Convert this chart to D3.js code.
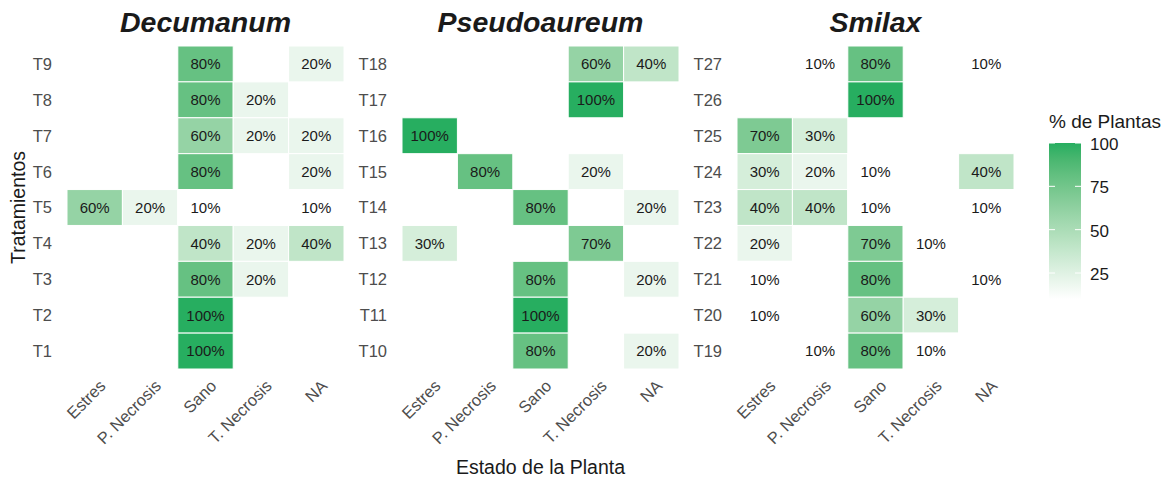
<!DOCTYPE html>
<html>
<head>
<meta charset="utf-8">
<script src="https://cdn.jsdelivr.net/npm/d3@7"></script>
<style>
  body { margin: 0; background: #fff; }
  svg { font-family: "Liberation Sans", Arial, sans-serif; }
</style>
</head>
<body>
<svg width="1170" height="480"></svg>
<script>
// estados de la planta (eje x)
let states = ["Estres", "P. Necrosis", "Sano", "T. Necrosis", "NA"];
let panelTitles = ["Decumanum", "Pseudoaureum", "Smilax"];

// filas de arriba hacia abajo; valores por estado (null = sin dato)
let decumanumRows = ["T9", "T8", "T7", "T6", "T5", "T4", "T3", "T2", "T1"];
let decumanumValues = [
  [null, null, 80, null, 20],
  [null, null, 80, 20, null],
  [null, null, 60, 20, 20],
  [null, null, 80, null, 20],
  [60, 20, 10, null, 10],
  [null, null, 40, 20, 40],
  [null, null, 80, 20, null],
  [null, null, 100, null, null],
  [null, null, 100, null, null]
];

let pseudoRows = ["T18", "T17", "T16", "T15", "T14", "T13", "T12", "T11", "T10"];
let pseudoValues = [
  [null, null, null, 60, 40],
  [null, null, null, 100, null],
  [100, null, null, null, null],
  [null, 80, null, 20, null],
  [null, null, 80, null, 20],
  [30, null, null, 70, null],
  [null, null, 80, null, 20],
  [null, null, 100, null, null],
  [null, null, 80, null, 20]
];

let smilaxRows = ["T27", "T26", "T25", "T24", "T23", "T22", "T21", "T20", "T19"];
let smilaxValues = [
  [null, 10, 80, null, 10],
  [null, null, 100, null, null],
  [70, 30, null, null, null],
  [30, 20, 10, null, 40],
  [40, 40, 10, null, 10],
  [20, null, 70, 10, null],
  [10, null, 80, null, 10],
  [10, null, 60, 30, null],
  [null, 10, 80, 10, null]
];

let legendTicks = [25, 50, 75, 100];

const svg = d3.select("svg");
const panelLeft = [67, 402, 737];
const panelW = 277;
const panelTop = 46, panelBottom = 369;

let color = d3.scaleLinear()
  .domain([10, 100])
  .range(["#ffffff", "#27ae60"])
  .interpolate(d3.interpolateLab);

let panels = [
  {rows: decumanumRows, values: decumanumValues},
  {rows: pseudoRows, values: pseudoValues},
  {rows: smilaxRows, values: smilaxValues}
];

panels.forEach((p, i) => {
  let g = svg.append("g");
  let x = d3.scaleBand().domain(states).range([panelLeft[i], panelLeft[i] + panelW]);
  let y = d3.scaleBand().domain(p.rows).range([panelTop, panelBottom]);

  let cells = [];
  p.rows.forEach((r, ri) => {
    states.forEach((s, si) => {
      let v = p.values[ri][si];
      if (v != null) cells.push({row: r, state: s, value: v});
    });
  });

  g.selectAll(".tile")
    .data(cells)
    .enter().append("rect")
    .attr("class", "tile")
    .attr("x", d => x(d.state))
    .attr("y", d => y(d.row))
    .attr("width", x.bandwidth())
    .attr("height", y.bandwidth())
    .style("fill", d => color(d.value))
    .style("stroke", "#ffffff")
    .style("stroke-width", 1);

  g.selectAll(".lbl")
    .data(cells)
    .enter().append("text")
    .attr("class", "lbl")
    .attr("x", d => x(d.state) + x.bandwidth() / 2)
    .attr("y", d => y(d.row) + y.bandwidth() / 2)
    .attr("dy", "0.36em")
    .attr("text-anchor", "middle")
    .style("font-size", "15px")
    .style("fill", "#1a1a1a")
    .text(d => d.value + "%");

  // etiquetas eje y
  g.selectAll(".ylab")
    .data(p.rows)
    .enter().append("text")
    .attr("x", panelLeft[i] - 15)
    .attr("y", d => y(d) + y.bandwidth() / 2)
    .attr("dy", "0.36em")
    .attr("text-anchor", "end")
    .style("font-size", "16.5px")
    .style("fill", "#4d4d4d")
    .text(d => d);

  // etiquetas eje x (rotadas)
  g.selectAll(".xlab")
    .data(states)
    .enter().append("text")
    .attr("transform", d => `translate(${x(d) + x.bandwidth() / 2 + 12},${panelBottom + 18}) rotate(-45)`)
    .attr("text-anchor", "end")
    .style("font-size", "16.5px")
    .style("fill", "#4d4d4d")
    .text(d => d);

  // titulo
  g.append("text")
    .attr("x", panelLeft[i] + panelW / 2)
    .attr("y", 32)
    .attr("text-anchor", "middle")
    .style("font-size", "28.5px")
    .style("font-weight", "bold")
    .style("font-style", "italic")
    .style("fill", "#1a1a1a")
    .text(panelTitles[i]);
});

// titulos de ejes
svg.append("text")
  .attr("x", (panelLeft[0] + panelLeft[2] + panelW) / 2)
  .attr("y", 474)
  .attr("text-anchor", "middle")
  .style("font-size", "19.5px")
  .style("fill", "#1a1a1a")
  .text("Estado de la Planta");

svg.append("text")
  .attr("transform", `translate(25,${(panelTop + panelBottom) / 2}) rotate(-90)`)
  .attr("text-anchor", "middle")
  .style("font-size", "19.5px")
  .style("fill", "#1a1a1a")
  .text("Tratamientos");

// leyenda
let legend = svg.append("g");
let lx = 1049, lw = 32;
let ly = d3.scaleLinear().domain([10, 100]).range([299, 143]);

let grad = svg.append("defs").append("linearGradient")
  .attr("id", "grad")
  .attr("x1", 0).attr("y1", 1).attr("x2", 0).attr("y2", 0);
d3.range(0, 11).forEach(k => {
  grad.append("stop")
    .attr("offset", k / 10)
    .attr("stop-color", color(10 + k * 9));
});

legend.append("text")
  .attr("x", lx)
  .attr("y", 128)
  .style("font-size", "19px")
  .style("fill", "#1a1a1a")
  .text("% de Plantas");

legend.append("rect")
  .attr("x", lx)
  .attr("y", ly(100))
  .attr("width", lw)
  .attr("height", ly(10) - ly(100))
  .style("fill", "url(#grad)");

legendTicks.forEach(t => {
  legend.append("line")
    .attr("x1", lx).attr("x2", lx + 6)
    .attr("y1", ly(t)).attr("y2", ly(t))
    .style("stroke", "#fff");
  legend.append("line")
    .attr("x1", lx + lw - 6).attr("x2", lx + lw)
    .attr("y1", ly(t)).attr("y2", ly(t))
    .style("stroke", "#fff");
});

legend.selectAll(".ltick")
  .data(legendTicks)
  .enter().append("text")
  .attr("x", lx + lw + 9)
  .attr("y", d => ly(d) + 1)
  .attr("dy", "0.36em")
  .style("font-size", "17px")
  .style("fill", "#1a1a1a")
  .text(d => d);
</script>
</body>
</html>
